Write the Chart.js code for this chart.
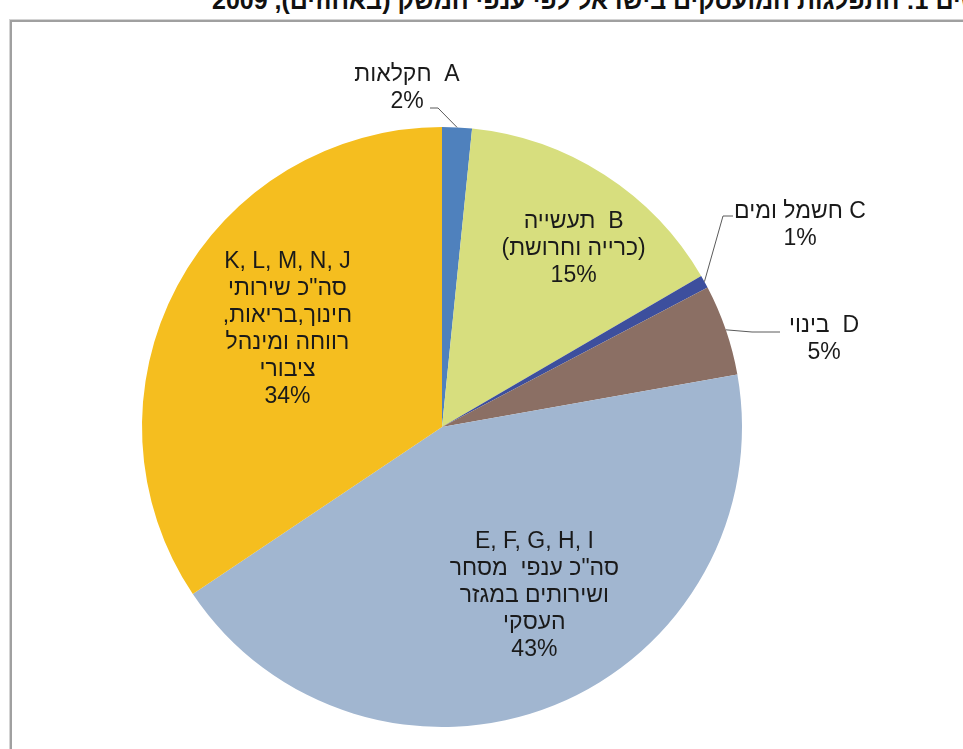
<!DOCTYPE html>
<html lang="he">
<head>
<meta charset="utf-8">
<title>התפלגות המועסקים לפי ענפי המשק</title>
<script src="https://cdn.jsdelivr.net/npm/chart.js@4.4.1/dist/chart.umd.min.js"></script>
<style>
    html, body { margin: 0; padding: 0; background: #fff; overflow: hidden; }
    #wrap { position: relative; width: 963px; height: 749px; overflow: hidden; }
    #frame {
        position: absolute; left: 10px; top: 20px; width: 1000px; height: 800px;
        border-left: 2px solid #a0a0a0; border-top: 2px solid #a0a0a0;
        box-shadow: -1px -1px 0 #d4d4d4;
    }
    #title {
        position: absolute; left: 212px; top: -14px;
        font: bold 25px "Liberation Sans", Arial, sans-serif;
        color: #111; white-space: nowrap; direction: rtl;
    }
    #chart { position: absolute; left: 0; top: 0; }
</style>
</head>
<body>
<div id="wrap">
    <div id="frame"></div>
    <div id="title">תרשים 1: התפלגות המועסקים בישראל לפי ענפי המשק (באחוזים), 2009</div>
    <canvas id="chart" width="963" height="749"></canvas>
</div>
<script>
// ענפי משק ואחוז המועסקים בכל ענף
const sectors = ['A', 'B', 'C', 'D', 'E-I', 'J-N'];
const shares = [1.6, 15.0, 0.7, 4.9, 43.4, 34.4];
const sliceColors = ['#4f81bd', '#d7de7e', '#3d4f9d', '#8b6f64', '#a1b6d0', '#f5be1f'];
const labelLines = [
    ['A  חקלאות'],
    ['B  תעשייה', '(כרייה וחרושת)'],
    ['C חשמל ומים'],
    ['D  בינוי'],
    ['E, F, G, H, I', 'סה"כ ענפי  מסחר', 'ושירותים במגזר', 'העסקי'],
    ['K, L, M, N, J', 'סה"כ שירותי', 'חינוך,בריאות,', 'רווחה ומינהל', 'ציבורי']
];

// מיקום התוויות: בתוך הפרוסה (מרחק יחסי + סיבוב) או בחוץ עם קו מוביל
const labelPlacement = [
    { outside: true, at: [-35, -339], elbow: [31, 20], end: [23, 20] },
    { dist: 0.74, turn: 3.6 },
    { outside: true, at: [358, -202], elbow: [-77, -9], end: [-67, -9] },
    { outside: true, at: [382, -88], elbow: [-72, -7], end: [-44, -7] },
    { dist: 0.64, turn: -6.8 },
    { dist: 0.61, turn: 4.3 }
];

const LABEL_FONT = '23px "Liberation Sans", Arial, sans-serif';
const LINE_HEIGHT = 27;
const hebrew = /[\u0590-\u05FF]/;

const total = shares.reduce((a, b) => a + b, 0);

function drawBlock(ctx, lines, cx, cy) {
    const top = cy - (lines.length - 1) * LINE_HEIGHT / 2;
    lines.forEach((line, i) => {
        ctx.direction = hebrew.test(line) ? 'rtl' : 'ltr';
        ctx.fillText(line, cx, top + i * LINE_HEIGHT);
    });
}

const sliceLabels = {
    id: 'sliceLabels',
    afterDatasetsDraw(chart) {
        const ctx = chart.ctx;
        const arcs = chart.getDatasetMeta(0).data;
        ctx.save();
        ctx.font = LABEL_FONT;
        ctx.fillStyle = '#1a1a1a';
        ctx.textAlign = 'center';
        ctx.textBaseline = 'middle';

        arcs.forEach((arc, i) => {
            const { x, y, startAngle, endAngle, outerRadius } = arc.getProps(['x', 'y', 'startAngle', 'endAngle', 'outerRadius'], true);
            const mid = (startAngle + endAngle) / 2;
            const pct = Math.round(shares[i] / total * 100) + '%';
            const lines = labelLines[i].concat([pct]);
            const place = labelPlacement[i];

            if (place.outside) {
                const tx = x + place.at[0];
                const ty = y + place.at[1];
                ctx.beginPath();
                ctx.strokeStyle = '#5a5a5a';
                ctx.lineWidth = 1;
                ctx.moveTo(x + Math.cos(mid) * outerRadius, y + Math.sin(mid) * outerRadius);
                ctx.lineTo(tx + place.elbow[0], ty + place.elbow[1]);
                ctx.lineTo(tx + place.end[0], ty + place.end[1]);
                ctx.stroke();
                drawBlock(ctx, lines, tx, ty);
            } else {
                const a = mid + place.turn * Math.PI / 180;
                const r = outerRadius * place.dist;
                drawBlock(ctx, lines, x + Math.cos(a) * r, y + Math.sin(a) * r);
            }
        });
        ctx.restore();
    }
};

new Chart(document.getElementById('chart'), {
    type: 'pie',
    data: {
        labels: sectors,
        datasets: [{
            data: shares,
            backgroundColor: sliceColors,
            borderWidth: 0
        }]
    },
    options: {
        responsive: false,
        devicePixelRatio: 1,
        animation: false,
        layout: {
            padding: { left: 142, right: 221, top: 127, bottom: 22 }
        },
        plugins: {
            legend: { display: false },
            tooltip: { enabled: false }
        }
    },
    plugins: [sliceLabels]
});
</script>
</body>
</html>
